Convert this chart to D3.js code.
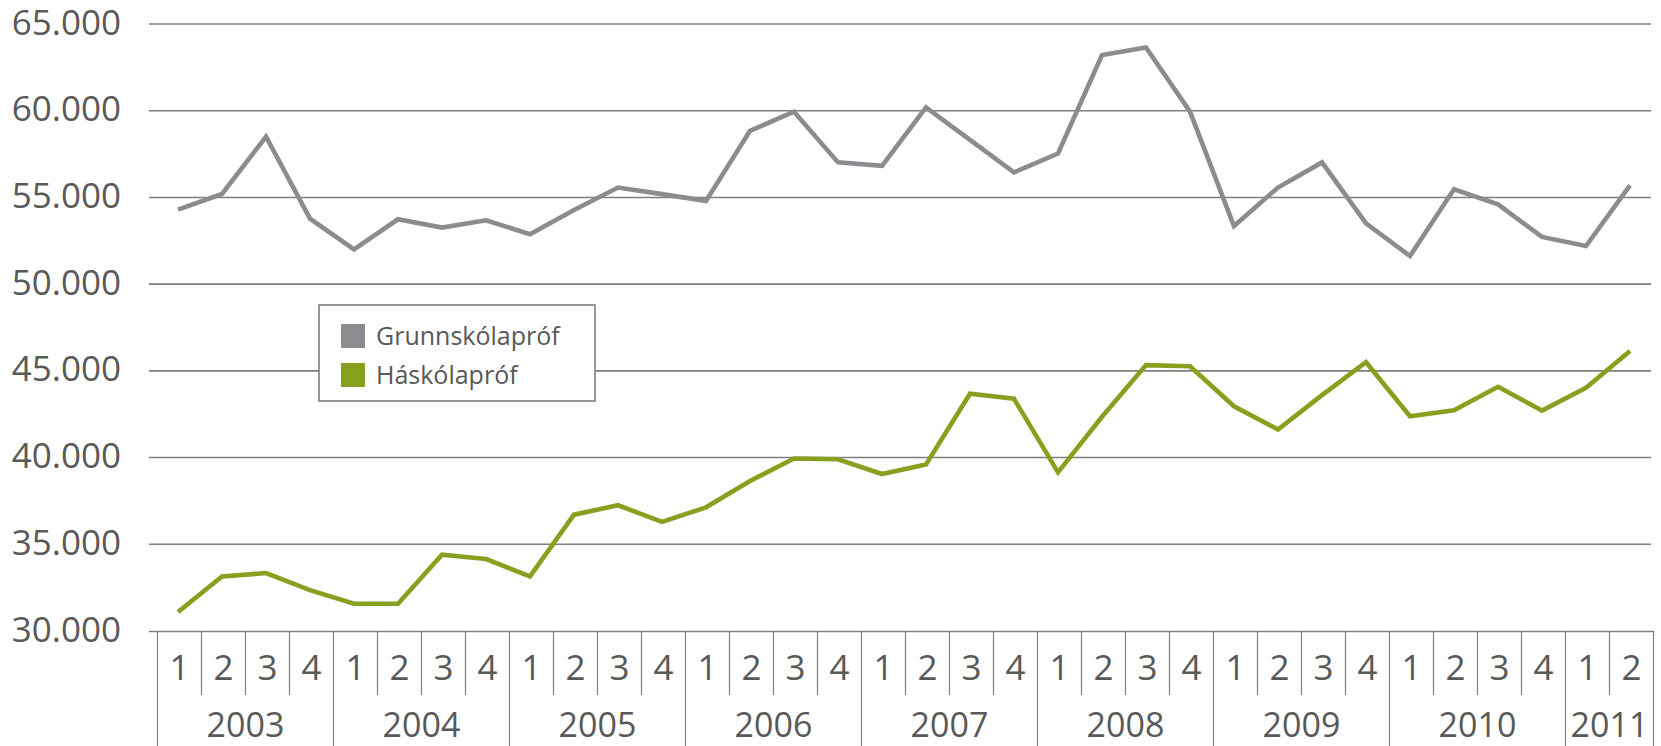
<!DOCTYPE html>
<html>
<head>
<meta charset="utf-8">
<script src="https://cdn.jsdelivr.net/npm/d3@7"></script>
<style>
  body { margin: 0; background: #fff; }
  text { font-family: "Open Sans", sans-serif; fill: #595959; }
</style>
</head>
<body>
<div id="chart"></div>
<script>
// quarters 2003 Q1 - 2011 Q2
const years = ["2003", "2004", "2005", "2006", "2007", "2008", "2009", "2010", "2011"];
const quartersPerYear = [4, 4, 4, 4, 4, 4, 4, 4, 2];
const quarterLabels = ["1", "2", "3", "4"];
const yTicks = [30000, 35000, 40000, 45000, 50000, 55000, 60000, 65000];

const seriesNames = ["Grunnskólapróf", "Háskólapróf"];
const grunnskolaprof = [54300, 55200, 58500, 53780, 52000, 53740, 53260, 53680, 52880, 54280,
    55570, 55190, 54800, 58840, 59940, 57020, 56820, 60190, 58320, 56440,
    57530, 63210, 63650, 59950, 53350, 55570, 57020, 53510, 51620, 55470,
    54600, 52720, 52200, 55700];
const haskolaprof = [31100, 33150, 33340, 32360, 31570, 31570, 34400, 34150, 33150, 36710,
    37250, 36290, 37130, 38650, 39950, 39900, 39050, 39600, 43680, 43390,
    39150, 42350, 45330, 45270, 42960, 41620, 43600, 45500, 42380, 42730,
    44080, 42710, 44020, 46140];
const colors = ["#8b8c8f", "#88a01f"];

const width_chart = 1661, height_chart = 746;
const plotLeft = 157.5, plotRight = 1653.5, plotTop = 24, plotBottom = 631;

const svg = d3.select("#chart").append("svg")
    .attr("width", width_chart)
    .attr("height", height_chart);

// one entry per quarter
const categories = [];
years.forEach(function (y, i) {
    for (let q = 0; q < quartersPerYear[i]; q++) {
        categories.push({ key: y + "-" + quarterLabels[q], year: y, q: quarterLabels[q], first: q === 0 });
    }
});

const xScale = d3.scaleBand()
    .domain(categories.map(function (d) { return d.key; }))
    .range([plotLeft, plotRight]);

const yScale = d3.scaleLinear()
    .domain([30000, 65000])
    .range([plotBottom, plotTop]);

const fmt = d3.formatLocale({ decimal: ",", thousands: ".", grouping: [3], currency: ["", ""] }).format(",");

// gridlines
svg.append("g")
    .selectAll("line")
    .data(yTicks.slice(1))
    .enter()
    .append("line")
    .attr("x1", 149)
    .attr("x2", 1651)
    .attr("y1", function (d) { return yScale(d); })
    .attr("y2", function (d) { return yScale(d); })
    .attr("stroke", "#7f7f7f")
    .attr("stroke-width", 1.6);

// y labels
svg.append("g")
    .selectAll("text")
    .data(yTicks)
    .enter()
    .append("text")
    .attr("x", 121)
    .attr("y", function (d) { return yScale(d) - 2; })
    .attr("dy", "0.36em")
    .attr("text-anchor", "end")
    .style("font-size", "35px")
    .text(function (d) { return fmt(d); });

// x axis line
svg.append("line")
    .attr("x1", 149)
    .attr("x2", plotRight)
    .attr("y1", plotBottom + 0.5)
    .attr("y2", plotBottom + 0.5)
    .attr("stroke", "#7f7f7f")
    .attr("stroke-width", 1.6);

// separators: short ones between quarters, long ones between years
const sep = svg.append("g");
sep.selectAll("line")
    .data(categories)
    .enter()
    .append("line")
    .attr("x1", function (d) { return xScale(d.key); })
    .attr("x2", function (d) { return xScale(d.key); })
    .attr("y1", plotBottom)
    .attr("y2", function (d) { return d.first ? height_chart : 695; })
    .attr("stroke", "#7f7f7f")
    .attr("stroke-width", 1.2);
sep.append("line")
    .attr("x1", plotRight)
    .attr("x2", plotRight)
    .attr("y1", plotBottom)
    .attr("y2", height_chart)
    .attr("stroke", "#7f7f7f")
    .attr("stroke-width", 1.2);

svg.append("g")
    .selectAll("text")
    .data(categories)
    .enter()
    .append("text")
    .attr("x", function (d) { return xScale(d.key) + xScale.bandwidth() / 2; })
    .attr("y", 667)
    .attr("dy", "0.36em")
    .attr("text-anchor", "middle")
    .style("font-size", "35px")
    .text(function (d) { return d.q; });

svg.append("g")
    .selectAll("text")
    .data(years)
    .enter()
    .append("text")
    .attr("x", function (d) {
        const keys = categories.filter(function (c) { return c.year === d; });
        return (xScale(keys[0].key) + xScale(keys[keys.length - 1].key) + xScale.bandwidth()) / 2;
    })
    .attr("y", 725)
    .attr("dy", "0.36em")
    .attr("text-anchor", "middle")
    .style("font-size", "34px")
    .text(function (d) { return d; });

// lines
const line = d3.line()
    .x(function (d, i) { return xScale(categories[i].key) + xScale.bandwidth() / 2 - 1.5; })
    .y(function (d) { return yScale(d); });

[grunnskolaprof, haskolaprof].forEach(function (vals, i) {
    svg.append("path")
        .attr("d", line(vals))
        .attr("fill", "none")
        .attr("stroke", colors[i])
        .attr("stroke-width", 4.6)
        .attr("stroke-linejoin", "miter");
});

// legend
const legend = svg.append("g").attr("transform", "translate(319,305)");
legend.append("rect")
    .attr("width", 276)
    .attr("height", 96)
    .attr("fill", "#fff")
    .attr("stroke", "#7f7f7f")
    .attr("stroke-width", 1.6);
const items = legend.selectAll("g.item")
    .data(seriesNames)
    .enter()
    .append("g")
    .attr("class", "item")
    .attr("transform", function (d, i) { return "translate(22," + (19 + i * 39) + ")"; });
items.append("rect")
    .attr("width", 24)
    .attr("height", 24)
    .attr("fill", function (d, i) { return colors[i]; });
items.append("text")
    .attr("x", 35)
    .attr("y", 12)
    .attr("dy", "0.36em")
    .style("font-size", "25px")
    .text(function (d) { return d; });
</script>
</body>
</html>
